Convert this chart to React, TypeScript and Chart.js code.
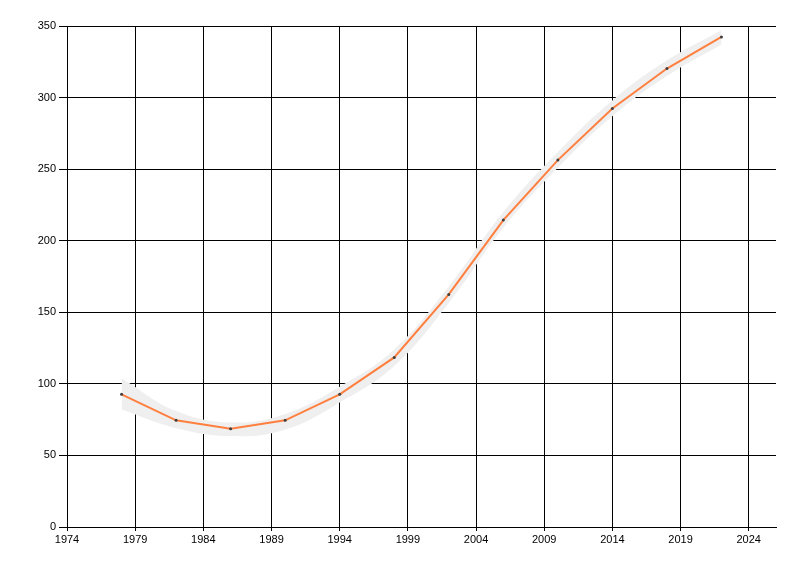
import React, { useEffect, useRef } from "react";
import { Chart, registerables } from "chart.js";

Chart.register(...registerables);

const years = [1978, 1982, 1986, 1990, 1994, 1998, 2002, 2006, 2010, 2014, 2018, 2022];
const values = [92.7, 74.5, 68.6, 74.5, 92.7, 118.5, 162.5, 214.4, 256.3, 292.4, 320.3, 342.4];
const bandLower = [82, 69, 63.5, 68, 87, 112.5, 156.5, 209, 251, 287, 315, 337];
const bandUpper = [104, 81, 73, 79, 98, 124, 168, 220, 262, 298, 326, 347];
const xTicks = [1974, 1979, 1984, 1989, 1994, 1999, 2004, 2009, 2014, 2019, 2024];
const yTicks = [0, 50, 100, 150, 200, 250, 300, 350];

export default function App() {
  const ref = useRef<HTMLCanvasElement | null>(null);
  useEffect(() => {
    if (!ref.current) return;
    const pts = (arr: number[]) => years.map((y, i) => ({ x: y, y: arr[i] }));
    const chart = new Chart(ref.current, {
      type: "line",
      data: {
        datasets: [
          {
            data: pts(bandLower),
            borderWidth: 0,
            borderColor: "rgba(0,0,0,0)",
            pointRadius: 0,
            tension: 0.4,
            fill: false,
            order: 3,
          },
          {
            data: pts(bandUpper),
            borderWidth: 0,
            borderColor: "rgba(0,0,0,0)",
            backgroundColor: "#efefef",
            pointRadius: 0,
            tension: 0.4,
            fill: "-1",
            order: 2,
          },
          {
            data: pts(values),
            borderColor: "#ff7f3f",
            borderWidth: 2,
            pointRadius: 1.5,
            pointBackgroundColor: "#404040",
            pointBorderColor: "#404040",
            pointBorderWidth: 0,
            tension: 0,
            fill: false,
            order: 1,
          },
        ],
      },
      options: {
        animation: false,
        responsive: false,
        maintainAspectRatio: false,
        layout: { padding: { left: 0, right: 24, top: 26, bottom: 0 } },
        plugins: { legend: { display: false }, tooltip: { enabled: false } },
        scales: {
          x: {
            type: "linear",
            min: 1974,
            max: 2026,
            afterBuildTicks: (s: any) => {
              s.ticks = xTicks.map((v) => ({ value: v }));
            },
            afterFit: (s: any) => {
              s.height = 49;
            },
            ticks: {
              color: "#000",
              font: { family: "Liberation Sans", size: 11 },
              maxRotation: 0,
              autoSkip: false,
              padding: 2,
              callback: (v: any) => String(v),
            },
            grid: { color: "#000", lineWidth: 1, tickLength: 4, drawTicks: true },
            border: { color: "#000", width: 1 },
          },
          y: {
            type: "linear",
            min: 0,
            max: 350,
            afterBuildTicks: (s: any) => {
              s.ticks = yTicks.map((v) => ({ value: v }));
            },
            afterFit: (s: any) => {
              s.width = 67;
            },
            ticks: {
              color: "#000",
              font: { family: "Liberation Sans", size: 11 },
              padding: 3,
              autoSkip: false,
            },
            grid: { color: "#000", lineWidth: 1, tickLength: 8, drawTicks: true },
            border: { color: "#000", width: 1 },
          },
        },
      },
    });
    return () => chart.destroy();
  }, []);
  return (
    <div style={{ position: "absolute", left: 0, top: 0, width: 800, height: 576, background: "#fff" }}>
      <canvas ref={ref} width={800} height={576} style={{ width: 800, height: 576 }} />
    </div>
  );
}
